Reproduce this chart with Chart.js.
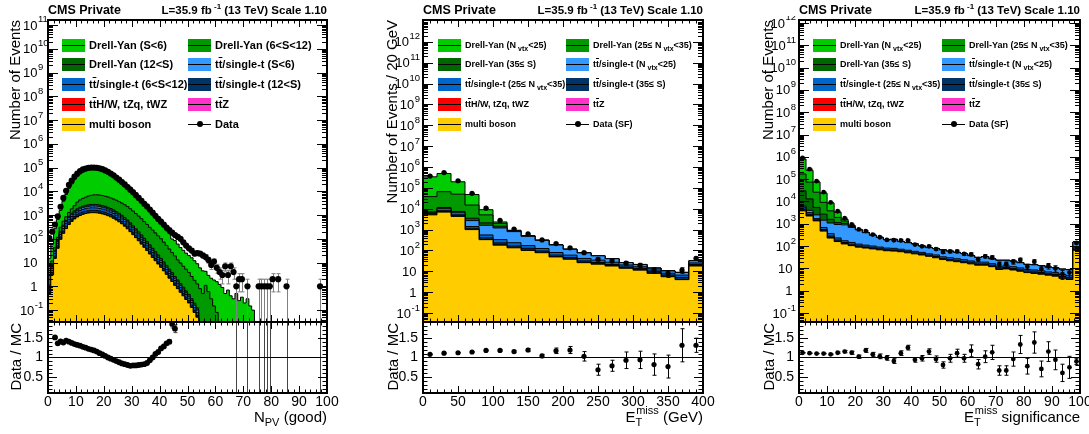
<!DOCTYPE html>
<html>
<head>
<meta charset="utf-8">
<title>CMS Private</title>
<script src="https://cdn.jsdelivr.net/npm/chart.js@4.4.0/dist/chart.umd.min.js"></script>
<style>
  body { margin: 0; background: #fff; }
  #page { position: relative; width: 1089px; height: 434px; overflow: hidden;
          font-family: "Liberation Sans", Arial, Helvetica, sans-serif; color: #000; }
  canvas { position: absolute; }
  .hdr { position: absolute; top: 3px; font-weight: bold; white-space: nowrap; line-height: 15px; }
  .hdr sup { font-size: 8px; vertical-align: 5px; line-height: 0; }
  .vt { position: absolute; writing-mode: vertical-rl; transform: rotate(180deg);
        font-size: 15px; line-height: 17px; white-space: nowrap; }
  .xt { position: absolute; top: 409px; font-size: 15px; line-height: 15px; white-space: nowrap; }
  .xt sub { font-size: 11px; vertical-align: -4px; line-height: 0; }
  .xt sup { font-size: 11px; vertical-align: 8px; line-height: 0; }
  .lg { position: absolute; font-weight: bold; white-space: nowrap; line-height: 13px; }
  .lg sub { font-size: 7px; vertical-align: -3px; line-height: 0; margin-left: 2px; }
  .sw { position: absolute; width: 23px; height: 13px; }
  .sw::after { content: ''; position: absolute; left: 0; right: 0; top: 6px; height: 1px; background: #000; }
  .ov { text-decoration: overline; }
</style>
</head>
<body>
<div id="page"></div>
<script>
// ---------- panel 1 : N_PV (good), 100 bins of width 1 ----------
const p1Data = [107, 200, 400, 890, 2240, 5250, 10500, 18600, 28000, 41700,
  56000, 71000, 83000, 91000, 97700, 100000, 100000, 97700, 93000, 85000,
  76000, 66000, 56000, 47000, 38000, 31000, 24500, 19500, 15100, 11700,
  9100, 6900, 5250, 4000, 3000, 2300, 1700, 1260, 930, 690,
  525, 400, 300, 234, 182, 145, 120, 100, 71, 52,
  40, 32, 24, 25, 24, 20, 17, 13, 8, 11,
  6, 4, 3, 7, 3, 7, 4, 1, 2, 2,
  0, 1, 0, 0, 0, 1, 1, 1, 1, 1,
  2, 0, 2, 0, 0, 1, 0, 0, 0, 0,
  0, 0, 0, 0, 0, 0, 0, 1, 0, 0];
const p1Ratio = [null, null, 1.51, 1.36, 1.41, 1.38, 1.43, 1.4, 1.37, 1.34,
  1.32, 1.3, 1.27, 1.25, 1.22, 1.2, 1.18, 1.15, 1.11, 1.08,
  1.04, 1.0, 0.97, 0.94, 0.91, 0.88, 0.85, 0.83, 0.81, 0.79,
  0.8, 0.8, 0.81, 0.82, 0.83, 0.86, 0.93, 1.0, 1.09, 1.14,
  1.23, 1.28, 1.36, 1.4, 1.85, 1.73, null, null, null, null,
  null, null, null, null, null, null, null, null, null, null,
  null, null, null, null, null, null, null, 15, null, null,
  null, 15, null, null, null, 15, null, 15, 15, 15,
  null, null, null, null, null, 15, null, null, null, null,
  null, null, null, null, null, null, null, 15, null, null];
const p1RatioErr = [0, 0, 0.02, 0.02, 0.01, 0.01, 0.01, 0.01, 0.01, 0.01,
  0.01, 0.01, 0.01, 0.01, 0.01, 0.01, 0.01, 0.01, 0.01, 0.01,
  0.01, 0.01, 0.01, 0.01, 0.01, 0.01, 0.01, 0.01, 0.01, 0.01,
  0.01, 0.01, 0.01, 0.01, 0.01, 0.01, 0.02, 0.02, 0.02, 0.03,
  0.03, 0.03, 0.04, 0.05, 0.1, 0.1, 0, 0, 0, 0,
  0, 0, 0, 0, 0, 0, 0, 0, 0, 0,
  0, 0, 0, 0, 0, 0, 0, 15, 0, 0,
  0, 15, 0, 0, 0, 15, 0, 15, 15, 15,
  0, 0, 0, 0, 0, 15, 0, 0, 0, 0,
  0, 0, 0, 0, 0, 0, 0, 15, 0, 0];
const p1MultiBoson = [0.5, 3, 15, 40, 95, 170, 270, 400, 540, 690, 830, 960, 1070, 1160, 1220, 1260, 1260,
  1240, 1190, 1120, 1040, 940, 840, 730, 620, 520, 430, 340, 265, 200, 150, 112, 83, 60, 44, 32, 23,
  16.5, 12, 8.7, 6.3, 4.5, 3.2, 2.2, 1.6, 1.1, 0.8, 0.56, 0.4, 0.28, 0.2, 0.13, 0.08, 0.05];
const p1TTZ = [0, 0.01, 0.03, 0.06, 0.15, 0.25, 0.4, 0.6, 0.8, 1, 1.2, 1.4, 1.55, 1.65, 1.75, 1.8, 1.8,
  1.75, 1.7, 1.6, 1.5, 1.35, 1.2, 1.05, 0.9, 0.75, 0.6, 0.5, 0.4, 0.3, 0.22, 0.16, 0.12, 0.08, 0.06, 0.04, 0.03, 0.02];
const p1TTHW = [0, 0.01, 0.05, 0.1, 0.3, 0.5, 0.8, 1.2, 1.6, 2, 2.4, 2.8, 3.1, 3.3, 3.5, 3.6, 3.6,
  3.5, 3.4, 3.2, 3, 2.7, 2.4, 2.1, 1.8, 1.5, 1.2, 1, 0.8, 0.6, 0.45, 0.33, 0.24, 0.17, 0.12, 0.09, 0.06, 0.04, 0.03];
const p1TT12 = [0.12, 0.75, 3.8, 10, 24, 42, 68, 100, 135, 172, 207, 240, 268, 290, 305, 315, 315,
  310, 298, 280, 260, 235, 210, 183, 155, 130, 108, 85, 66, 50, 38, 28, 21, 15, 11, 8, 5.8,
  4.1, 3, 2.2, 1.6, 1.1, 0.8, 0.55, 0.4, 0.28, 0.2, 0.14, 0.1, 0.07, 0.05, 0.03, 0.02, 0.01];
const p1TT6 = [0.18, 1, 5.2, 14, 33, 60, 95, 140, 190, 241, 290, 336, 375, 406, 427, 441, 441,
  434, 417, 392, 364, 329, 294, 256, 217, 182, 150, 119, 93, 70, 53, 39, 29, 21, 15, 11, 8,
  5.8, 4.2, 3, 2.2, 1.6, 1.1, 0.77, 0.56, 0.38, 0.28, 0.2, 0.14, 0.1, 0.07, 0.05, 0.03, 0.02];
const p1TT0 = [0.15, 0.9, 4.5, 12, 28, 51, 81, 120, 162, 207, 249, 288, 321, 348, 366, 378, 378,
  372, 357, 336, 312, 282, 252, 219, 186, 156, 129, 102, 80, 60, 45, 34, 25, 18, 13, 10, 7,
  5, 3.6, 2.6, 1.9, 1.35, 1, 0.66, 0.48, 0.33, 0.24, 0.17, 0.12, 0.08, 0.06, 0.04, 0.03, 0.02];
const p1DY12 = [0.2, 1, 4, 11, 26, 48, 78, 118, 160, 205, 250, 292, 330, 360, 382, 396, 400,
  398, 388, 370, 348, 320, 290, 258, 225, 192, 162, 133, 108, 86, 67, 52, 40, 30, 22, 16, 12,
  8.6, 6.2, 4.4, 3.1, 2.2, 1.5, 1.05, 0.72, 0.5, 0.34, 0.24, 0.16, 0.11, 0.08, 0.05, 0.035, 0.025];
const p1DY6 = [2, 5, 10, 28, 100, 176, 256, 410, 630, 990, 1720, 2250, 2660, 3070, 3630, 3990, 4310,
  4350, 4300, 4150, 3880, 3680, 3400, 3070, 2810, 2490, 2210, 1940, 1660, 1380, 1120, 900, 707, 558, 429, 329, 249,
  194, 148, 113, 86, 62, 45, 32, 22.5, 16.6, 11.2, 8.3, 6.1, 4.6, 3.4, 2.3, 1.6, 1.15, 0.8, 0.5, 1.1, 0.6, 0.3, 0.15, 0.08];
const p1DY0 = [12, 47, 225, 542, 1274, 3250, 6490, 12010, 18580, 28590, 38850, 50240, 60390, 67180, 73790, 76540, 77620,
  77920, 76880, 72090, 66930, 60250, 52450, 45320, 37630, 31570, 25640, 20810, 16360, 12980, 9950, 7450, 5610, 4210, 3075, 2270, 1530,
  1030, 676, 473, 327, 240, 168, 130, 72, 65, 47, 33.5, 26, 19.8, 16.2, 13.4, 10.2, 7.7, 5.2, 4, 3.2, 2.3, 1.9, 1.7,
  1.5, 1.2, 0.9, 0.5, 0.7, 0.4, 0.3, 0.5, 0.25, 0.35, 0.2, 0.3, 0.15, 0.1];
const p1XTicks = [0, 10, 20, 30, 40, 50, 60, 70, 80, 90, 100];
const p1XTickLabels = ['0', '10', '20', '30', '40', '50', '60', '70', '80', '90', '100'];
const p1YTicks = [1e-1, 1, 1e1, 1e2, 1e3, 1e4, 1e5, 1e6, 1e7, 1e8, 1e9, 1e10, 1e11];
const p1YTickLabels = ['10^-1', '1', '10', '10^2', '10^3', '10^4', '10^5', '10^6', '10^7', '10^8', '10^9', '10^10', '10^11'];

// ---------- panel 2 : MET, 20 bins of 20 GeV ----------
const p2Data = [370000, 540000, 220000, 55000, 10700, 2750, 1070, 620, 320, 215, 134, 78, 38, 31.6, 24.5, 19.6, 11.4, 7.9, 11.4, 42];
const p2Ratio = [1.08, 1.11, 1.12, 1.14, 1.18, 1.18, 1.15, 1.19, 1.04, 1.17, 1.19, 1.03, 0.69, 0.79, 0.93, 0.94, 0.82, 0.77, 1.31, 1.31];
const p2RatioErr = [0.003, 0.003, 0.004, 0.006, 0.012, 0.02, 0.03, 0.04, 0.04, 0.07, 0.09, 0.12, 0.14, 0.14, 0.21, 0.22, 0.27, 0.29, 0.42, 0.18];
const p2MultiBoson = [5100, 6900, 4300, 1000, 330, 180, 134, 100, 78, 49, 38, 26, 22, 18, 14, 11.4, 8, 5.5, 4, 18];
const p2TTZ = [10, 12, 9, 3, 1.2, 0.8, 0.6, 0.5, 0.4, 0.3, 0.2, 0.15, 0.12, 0.1, 0.08, 0.06, 0.05, 0.04, 0.03, 0.1];
const p2TTHW = [20, 25, 18, 6, 2.5, 1.5, 1.2, 1, 0.8, 0.5, 0.4, 0.3, 0.25, 0.2, 0.15, 0.12, 0.1, 0.07, 0.05, 0.2];
const p2TT35 = [300, 600, 500, 150, 70, 50, 28, 25, 15, 10, 7, 5, 4, 3, 2, 2, 1.5, 1, 1, 3];
const p2TT25 = [400, 900, 700, 250, 150, 100, 72, 45, 30, 20, 14, 10, 8, 6, 4, 3, 2, 1.5, 1.5, 4];
const p2TT0 = [500, 1600, 1200, 1300, 1050, 870, 566, 305, 180, 103, 54, 35, 21, 13, 6, 4.6, 2.5, 2.3, 2.2, 7];
const p2DY35 = [800, 1500, 700, 800, 500, 250, 40, 15, 5, 2, 1, 0.5, 0.3, 0.2, 0.1, 0.1, 0.05, 0.05, 0.05, 0.1];
const p2DY25 = [31000, 54500, 42600, 11500, 3000, 550, 60, 15, 2, 1, 0.5, 0.3, 0.2, 0.1, 0.1, 0.05, 0.05, 0.05, 0.05, 0.1];
const p2DY0 = [302000, 424000, 146000, 33000, 3900, 330, 30, 10, 1, 0.5, 0.3, 0.2, 0.1, 0.1, 0.05, 0.05, 0.05, 0.05, 0.05, 0.1];
const p2XTicks = [0, 50, 100, 150, 200, 250, 300, 350, 400];
const p2XTickLabels = ['0', '50', '100', '150', '200', '250', '300', '350', '400'];
const p2YTicks = [1e-1, 1, 1e1, 1e2, 1e3, 1e4, 1e5, 1e6, 1e7, 1e8, 1e9, 1e10, 1e11, 1e12];
const p2YTickLabels = ['10^-1', '1', '10', '10^2', '10^3', '10^4', '10^5', '10^6', '10^7', '10^8', '10^9', '10^10', '10^11', '10^12'];

// ---------- panel 3 : MET significance, 40 bins of 2.5 ----------
const p3Data = [890000, 280000, 81000, 26000, 9100, 3640, 1770, 940, 560, 470, 330, 250, 190, 183, 178, 178, 117, 98, 98, 74,
  54, 58, 58, 45, 43, 26, 35, 31, 15.5, 15.5, 20, 24, 12, 20, 9.5, 13, 10, 5.6, 6.5, 138];
const p3Ratio = [1.12, 1.11, 1.1, 1.1, 1.08, 1.12, 1.15, 1.12, 1.02, 1.18, 1.08, 1.03, 0.99, 0.91, 1.11, 1.25, 0.94, 0.98, 1.15, 0.96,
  0.81, 0.98, 1.11, 0.98, 1.17, 0.83, 1.02, 1.13, 0.67, 0.67, 0.96, 1.33, 0.78, 1.38, 0.71, 1.15, 0.94, 0.61, 0.75, 0.9];
const p3RatioErr = [0.003, 0.004, 0.005, 0.008, 0.012, 0.02, 0.03, 0.04, 0.04, 0.05, 0.05, 0.06, 0.06, 0.06, 0.06, 0.06, 0.06, 0.07, 0.07, 0.08,
  0.08, 0.1, 0.1, 0.1, 0.15, 0.12, 0.15, 0.18, 0.12, 0.12, 0.18, 0.23, 0.2, 0.27, 0.2, 0.25, 0.25, 0.22, 0.28, 0.08];
const p3MultiBoson = [3800, 2240, 1350, 470, 230, 160, 125, 105, 90, 82, 75, 68, 62, 60, 56, 50, 45, 40, 35, 30,
  25, 22, 20, 18, 16, 14, 14, 12, 9, 9.5, 8.5, 7.5, 6.5, 6, 5.5, 5, 4.5, 3.6, 3.2, 65];
const p3TTZ = [10, 6, 3, 1.5, 1, 0.7, 0.5, 0.4, 0.35, 0.3, 0.25, 0.2, 0.2, 0.18, 0.15, 0.14, 0.12, 0.1, 0.1, 0.08,
  0.07, 0.06, 0.05, 0.05, 0.04, 0.04, 0.04, 0.03, 0.03, 0.03, 0.02, 0.02, 0.02, 0.02, 0.02, 0.01, 0.01, 0.01, 0.01, 0.2];
const p3TTHW = [15, 10, 5, 2.5, 1.5, 1, 0.8, 0.6, 0.5, 0.45, 0.4, 0.35, 0.3, 0.28, 0.25, 0.22, 0.2, 0.18, 0.15, 0.13,
  0.12, 0.1, 0.09, 0.08, 0.07, 0.06, 0.06, 0.05, 0.04, 0.04, 0.04, 0.03, 0.03, 0.03, 0.02, 0.02, 0.02, 0.02, 0.02, 0.3];
const p3TT35 = [600, 400, 150, 80, 50, 25, 18, 15, 12, 10, 9, 8, 7, 7, 6, 6, 5, 5, 4, 4,
  3, 3, 3, 2.5, 2, 2, 2, 1.8, 1.5, 1.5, 1.4, 1.2, 1, 1, 1, 0.8, 0.8, 0.7, 0.6, 10];
const p3TT25 = [800, 500, 200, 130, 80, 45, 30, 25, 20, 18, 16, 14, 12, 12, 10, 9, 8, 7, 6, 6,
  5, 5, 4, 4, 3.5, 3, 3, 2.5, 2, 2, 2, 1.8, 1.5, 1.5, 1.3, 1.2, 1.1, 1, 0.9, 15];
const p3TT0 = [900, 850, 800, 760, 720, 700, 720, 540, 413, 290, 205, 153, 111, 121, 88, 77, 66, 48, 40, 37,
  34, 29, 25, 21.5, 15.5, 12, 15, 10.7, 10.5, 10, 9.1, 7.5, 6, 6, 5.6, 4.3, 4.2, 3.9, 4, 63];
const p3DY35 = [24000, 9000, 2900, 1260, 500, 200, 150, 60, 10, 3, 1, 0.5, 0.3, 0.2, 0.1];
const p3DY25 = [140000, 61000, 20600, 6400, 2220, 800, 270, 60, 5, 2, 1, 0.5, 0.3];
const p3DY0 = [620000, 176000, 48000, 14500, 4600, 1320, 227, 35, 2, 1, 0.5];
const p3XTicks = p1XTicks;
const p3XTickLabels = p1XTickLabels;
const p3YTicks = p2YTicks;
const p3YTickLabels = p2YTickLabels;

const ratioYTicks = [0.5, 1, 1.5];
const ratioYTickLabels = ['0.5', '1', '1.5'];

// legend texts (ROOT legend order: row by row)
const p1Legend = ['Drell-Yan (S&lt;6)', 'Drell-Yan (6&lt;S&lt;12)', 'Drell-Yan (12&lt;S)',
  't<span class="ov">t</span>/single-t (S&lt;6)', 't<span class="ov">t</span>/single-t (6&lt;S&lt;12)',
  't<span class="ov">t</span>/single-t (12&lt;S)', 't<span class="ov">t</span>H/W, tZq, tWZ',
  't<span class="ov">t</span>Z', 'multi boson', 'Data'];
const p2Legend = ['Drell-Yan (N<sub>vtx</sub>&lt;25)', 'Drell-Yan (25&le; N<sub>vtx</sub>&lt;35)', 'Drell-Yan (35&le; S)',
  't<span class="ov">t</span>/single-t (N<sub>vtx</sub>&lt;25)', 't<span class="ov">t</span>/single-t (25&le; N<sub>vtx</sub>&lt;35)',
  't<span class="ov">t</span>/single-t (35&le; S)', 't<span class="ov">t</span>H/W, tZq, tWZ',
  't<span class="ov">t</span>Z', 'multi boson', 'Data (SF)'];

// ---------- styling / layout ----------
const FONT = '"Liberation Sans", Arial, Helvetica, sans-serif';
const LEGEND_COLORS = ['#00cc00', '#009900', '#006600', '#3399ff', '#0066cc', '#003366', '#ff0000', '#ff33cc', '#ffcc00'];
const STACK_COLORS = LEGEND_COLORS.slice().reverse();   // bottom -> top
const AX = 45, PT = 4, PR = 15, PB = 4, XH = 22;
const MAIN_T = 20, MAIN_B = 322, RATIO_B = 393;
const page = document.getElementById('page');

function pad(arr, n) {
  return Array.from({ length: n }, (_, i) => arr[i] ?? 0);
}

function logMinors(min, max) {
  const out = [];
  for (let e = Math.floor(Math.log10(min)); e <= Math.ceil(Math.log10(max)); e++) {
    for (let k = 2; k <= 9; k++) {
      const v = k * Math.pow(10, e);
      if (v > min && v < max) out.push(v);
    }
  }
  return out;
}

function steps(a, b, step) {
  const out = [];
  for (let v = a; v <= b + 1e-9; v += step) out.push(+v.toFixed(6));
  return out;
}

// frame, inward ticks, y labels with exponents, error bars
const rootFrame = {
  id: 'rootFrame',
  beforeDatasetDraw(chart, args) {
    const ds = chart.data.datasets[args.index];
    if (!ds.isData) return;
    const { ctx, chartArea: a } = chart;
    const x = chart.scales.x, y = chart.scales.y;
    ctx.save();
    ctx.beginPath();
    ctx.rect(a.left, a.top, a.right - a.left, a.bottom - a.top);
    ctx.clip();
    ctx.strokeStyle = ds.errColor;
    ctx.lineWidth = 1;
    ctx.beginPath();
    ds.data.forEach(p => {
      if (!p.e) return;
      const px = Math.round(x.getPixelForValue(p.x)) + 0.5;
      const lo = p.y - p.e;
      const y1 = (lo <= 0 && y.type === 'logarithmic') ? a.bottom + 10 : y.getPixelForValue(lo);
      const y2 = y.getPixelForValue(p.y + p.e);
      ctx.moveTo(px, y1); ctx.lineTo(px, y2);
      ctx.moveTo(px - 2, y1); ctx.lineTo(px + 2, y1);
      ctx.moveTo(px - 2, y2); ctx.lineTo(px + 2, y2);
    });
    ctx.stroke();
    ctx.restore();
  },
  afterDraw(chart, args, o) {
    const { ctx, chartArea: a } = chart;
    const x = chart.scales.x, y = chart.scales.y;
    ctx.save();
    ctx.strokeStyle = '#000';
    ctx.lineWidth = 1;
    ctx.beginPath();
    if (o.unity) {
      const py = Math.round(y.getPixelForValue(1)) + 0.5;
      ctx.moveTo(a.left, py); ctx.lineTo(a.right, py);
    }
    for (const [vals, len] of [[o.xMajor, 7], [o.xMinor, 3.5]]) {
      for (const v of vals) {
        const px = Math.round(x.getPixelForValue(v)) + 0.5;
        ctx.moveTo(px, a.top); ctx.lineTo(px, a.top + len);
        ctx.moveTo(px, a.bottom); ctx.lineTo(px, a.bottom - len);
      }
    }
    for (const [vals, len] of [[o.yMajor, o.yMajorLen], [o.yMinor, o.yMinorLen]]) {
      for (const v of vals) {
        if (v <= y.min || v >= y.max) continue;
        const py = Math.round(y.getPixelForValue(v)) + 0.5;
        ctx.moveTo(a.left, py); ctx.lineTo(a.left + len, py);
        ctx.moveTo(a.right, py); ctx.lineTo(a.right - len, py);
      }
    }
    ctx.stroke();
    ctx.lineWidth = 2;
    ctx.strokeRect(a.left, a.top, a.right - a.left, a.bottom - a.top);

    if (o.yLabels) {
      ctx.fillStyle = '#000';
      ctx.textAlign = 'left';
      ctx.textBaseline = 'alphabetic';
      o.yLabels.values.forEach((v, i) => {
        const [base, exp] = o.yLabels.labels[i].split('^');
        const py = y.getPixelForValue(v);
        ctx.font = '13px ' + FONT;
        const bw = ctx.measureText(base).width;
        let ew = 0, mw = 0;
        if (exp) {
          ctx.font = '9.5px ' + FONT;
          ew = ctx.measureText(exp).width + 0.5;
          if (exp[0] === '-') mw = ctx.measureText('-').width;
        }
        let bx;
        if (o.yLabels.mode === 'base') {
          bx = a.left - 10.5 - bw - mw;
        } else {
          bx = exp ? a.left - 3 - ew - bw : a.left - 6.5 - bw;
        }
        ctx.font = '13px ' + FONT;
        ctx.fillText(base, bx, py + 4.6);
        if (exp) {
          ctx.font = '9.5px ' + FONT;
          ctx.fillText(exp, bx + bw + 0.5, py - 2.5);
        }
      });
    }
    ctx.restore();
  }
};

function addCanvas(left, top, w, h) {
  const c = document.createElement('canvas');
  c.width = w; c.height = h;
  c.style.left = left + 'px'; c.style.top = top + 'px';
  c.style.width = w + 'px'; c.style.height = h + 'px';
  page.appendChild(c);
  return c;
}

function histDataset(vals, n, lo, w, color, first) {
  const v = pad(vals, n);
  const pts = v.map((val, i) => ({ x: lo + i * w, y: val > 0 ? val : 1e-9 }));
  pts.push({ x: lo + n * w, y: pts[n - 1].y });
  return {
    type: 'line', data: pts, stepped: true, fill: first ? 'start' : '-1',
    backgroundColor: color, borderColor: '#000', borderWidth: 1,
    pointRadius: 0, stack: 'mc'
  };
}

function buildPanel(p) {
  const width = p.R - p.L + AX + PR;
  const xmax = p.lo + p.n * p.w;

  // ---- main (log) pad ----
  const mainCanvas = addCanvas(p.L - AX, MAIN_T - PT, width, MAIN_B - MAIN_T + PT + PB);
  const datasets = p.stack.map((vals, i) => histDataset(vals, p.n, p.lo, p.w, STACK_COLORS[i], i === 0));
  const dataPts = p.data.map((v, i) => v > 0 ? { x: p.lo + (i + 0.5) * p.w, y: v, e: Math.sqrt(v) } : null).filter(Boolean);
  datasets.push({
    type: 'scatter', data: dataPts, isData: true, errColor: p.mainErrColor,
    pointRadius: p.dot, pointBackgroundColor: '#000', pointBorderWidth: 0,
    showLine: false, stack: 'data', order: -1
  });
  new Chart(mainCanvas, {
    type: 'line',
    data: { datasets },
    options: {
      responsive: false, animation: false, devicePixelRatio: 1, events: [],
      layout: { padding: { left: 0, top: PT, right: PR, bottom: PB } },
      plugins: {
        legend: { display: false }, tooltip: { enabled: false },
        rootFrame: {
          xMajor: p.xTicks, xMinor: steps(p.lo, xmax, p.xMinorStep),
          yMajor: p.yTicks, yMinor: logMinors(p.ymin, p.ymax), yMajorLen: 10, yMinorLen: 5,
          yLabels: { values: p.yTicks, labels: p.yTickLabels, mode: p.yLabelMode }
        }
      },
      scales: {
        x: { type: 'linear', min: p.lo, max: xmax, display: false },
        y: {
          type: 'logarithmic', min: p.ymin, max: p.ymax, stacked: true,
          ticks: { display: false }, grid: { display: false, drawTicks: false }, border: { display: false },
          afterFit: s => { s.width = AX; s.paddingTop = 0; s.paddingBottom = 0; }
        }
      }
    },
    plugins: [rootFrame]
  });

  // ---- ratio pad ----
  const ratioCanvas = addCanvas(p.L - AX, MAIN_B - PT, width, RATIO_B - MAIN_B + PT + XH);
  const ratioPts = p.ratio.map((r, i) => r == null ? null : { x: p.lo + (i + 0.5) * p.w, y: r, e: p.ratioErr[i] }).filter(Boolean);
  new Chart(ratioCanvas, {
    type: 'scatter',
    data: {
      datasets: [{
        data: ratioPts, isData: true, errColor: p.ratioErrColor,
        pointRadius: p.ratioDot, pointBackgroundColor: '#000', pointBorderWidth: 0, showLine: false
      }]
    },
    options: {
      responsive: false, animation: false, devicePixelRatio: 1, events: [],
      layout: { padding: { left: 0, top: PT, right: PR, bottom: 0 } },
      plugins: {
        legend: { display: false }, tooltip: { enabled: false },
        rootFrame: {
          unity: true,
          xMajor: p.xTicks, xMinor: steps(p.lo, xmax, p.xMinorStep),
          yMajor: ratioYTicks, yMinor: steps(0.2, 1.8, 0.1), yMajorLen: 9, yMinorLen: 4.5
        }
      },
      scales: {
        x: {
          type: 'linear', min: p.lo, max: xmax,
          afterBuildTicks: s => { s.ticks = p.xTicks.map(v => ({ value: v })); },
          ticks: {
            autoSkip: false, maxRotation: 0, minRotation: 0, padding: 1, color: '#000',
            font: { family: FONT, size: 14 },
            callback: (v, i) => p.xTickLabels[i]
          },
          grid: { display: false, drawTicks: false }, border: { display: false },
          afterFit: s => { s.height = XH; s.paddingLeft = 0; s.paddingRight = 0; }
        },
        y: {
          type: 'linear', min: 0.1, max: 1.9,
          afterBuildTicks: s => { s.ticks = ratioYTicks.map(v => ({ value: v })); },
          ticks: {
            autoSkip: false, padding: 5, color: '#000',
            font: { family: FONT, size: 14 },
            callback: (v, i) => ratioYTickLabels[i]
          },
          grid: { display: false, drawTicks: false }, border: { display: false },
          afterFit: s => { s.width = AX; s.paddingTop = 0; s.paddingBottom = 0; }
        }
      }
    },
    plugins: [rootFrame]
  });

  // ---- texts ----
  const hdr1 = document.createElement('div');
  hdr1.className = 'hdr';
  hdr1.style.left = p.L + 'px';
  hdr1.style.fontSize = '12.5px';
  hdr1.textContent = 'CMS Private';
  page.appendChild(hdr1);

  const hdr2 = document.createElement('div');
  hdr2.className = 'hdr';
  hdr2.style.right = (1089 - p.R) + 'px';
  hdr2.style.fontSize = '11.5px';
  hdr2.innerHTML = 'L=35.9 fb<sup>&nbsp;-1</sup> (13 TeV) Scale 1.10';
  page.appendChild(hdr2);

  const yt = document.createElement('div');
  yt.className = 'vt';
  yt.style.left = (p.yTitleX - 8.5) + 'px';
  yt.style.top = MAIN_T + 'px';
  yt.textContent = p.yTitle;
  page.appendChild(yt);

  const rt = document.createElement('div');
  rt.className = 'vt';
  rt.style.left = (p.yTitleX - 7.5) + 'px';
  rt.style.top = (MAIN_B + 1) + 'px';
  rt.textContent = 'Data / MC';
  page.appendChild(rt);

  const xt = document.createElement('div');
  xt.className = 'xt';
  xt.style.right = (1089 - p.R) + 'px';
  xt.innerHTML = p.xTitle;
  page.appendChild(xt);

  // ---- legend ----
  p.legend.forEach((html, k) => {
    const row = Math.floor(k / 2), col = k % 2;
    const cy = 45 + row * 19.8;
    const sx = p.L + p.legendCols[col];
    if (k < LEGEND_COLORS.length) {
      const sw = document.createElement('div');
      sw.className = 'sw';
      sw.style.left = sx + 'px';
      sw.style.top = (cy - 6.5) + 'px';
      sw.style.background = LEGEND_COLORS[k];
      page.appendChild(sw);
    } else {
      const ln = document.createElement('div');
      ln.style.cssText = `position:absolute;left:${sx}px;top:${cy - 0.5}px;width:23px;height:1px;background:#000`;
      page.appendChild(ln);
      const dot = document.createElement('div');
      dot.style.cssText = `position:absolute;left:${sx + 8.5}px;top:${cy - 3}px;width:6px;height:6px;border-radius:3px;background:#000`;
      page.appendChild(dot);
    }
    const tx = document.createElement('div');
    tx.className = 'lg';
    tx.style.left = (sx + 27) + 'px';
    tx.style.top = (cy - 6.5) + 'px';
    tx.style.fontSize = p.legendFont + 'px';
    tx.innerHTML = html;
    page.appendChild(tx);
  });
}

buildPanel({
  L: 48, R: 327, lo: 0, w: 1, n: 100,
  stack: [p1MultiBoson, p1TTZ, p1TTHW, p1TT12, p1TT6, p1TT0, p1DY12, p1DY6, p1DY0],
  data: p1Data, ratio: p1Ratio, ratioErr: p1RatioErr,
  ymin: 0.0316, ymax: 1.62e11, yTicks: p1YTicks, yTickLabels: p1YTickLabels, yLabelMode: 'base',
  xTicks: p1XTicks, xTickLabels: p1XTickLabels, xMinorStep: 2,
  dot: 3.1, ratioDot: 2.9, mainErrColor: '#808080', ratioErrColor: '#444',
  yTitle: 'Number of Events', yTitleX: 14.5,
  xTitle: 'N<sub>PV</sub> (good)',
  legend: p1Legend, legendCols: [14, 140], legendFont: 11
});
buildPanel({
  L: 423, R: 703, lo: 0, w: 20, n: 20,
  stack: [p2MultiBoson, p2TTZ, p2TTHW, p2TT35, p2TT25, p2TT0, p2DY35, p2DY25, p2DY0],
  data: p2Data, ratio: p2Ratio, ratioErr: p2RatioErr,
  ymin: 0.0372, ymax: 1.12e13, yTicks: p2YTicks, yTickLabels: p2YTickLabels, yLabelMode: 'whole',
  xTicks: p2XTicks, xTickLabels: p2XTickLabels, xMinorStep: 10,
  dot: 2.6, ratioDot: 2.6, mainErrColor: '#000', ratioErrColor: '#000',
  yTitle: 'Number of Events / 20 GeV', yTitleX: 391,
  xTitle: 'E<sub>T</sub><sup style="margin-left:-6px">miss</sup> (GeV)',
  legend: p2Legend, legendCols: [15, 143], legendFont: 9
});
buildPanel({
  L: 799, R: 1080, lo: 0, w: 2.5, n: 40,
  stack: [p3MultiBoson, p3TTZ, p3TTHW, p3TT35, p3TT25, p3TT0, p3DY35, p3DY25, p3DY0],
  data: p3Data, ratio: p3Ratio, ratioErr: p3RatioErr,
  ymin: 0.0398, ymax: 1.35e12, yTicks: p3YTicks, yTickLabels: p3YTickLabels, yLabelMode: 'whole',
  xTicks: p3XTicks, xTickLabels: p3XTickLabels, xMinorStep: 2,
  dot: 2.4, ratioDot: 2.4, mainErrColor: '#000', ratioErrColor: '#000',
  yTitle: 'Number of Events', yTitleX: 767.5,
  xTitle: 'E<sub>T</sub><sup style="margin-left:-6px">miss</sup> significance',
  legend: p2Legend, legendCols: [14, 143], legendFont: 9
});
</script>
</body>
</html>
